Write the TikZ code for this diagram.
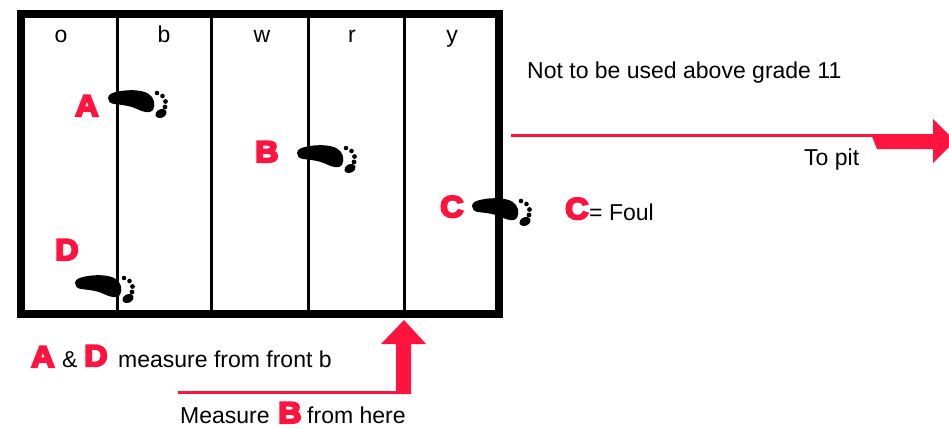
\documentclass[tikz,border=0pt]{standalone}
\usepackage{fontspec}
\setmainfont{Liberation Sans}
\newfontfamily\heavyfont[FakeBold=7,FakeStretch=1.08]{Liberation Sans Bold}
\definecolor{pitred}{HTML}{FF143F}
\tikzset{
  x=1pt,y=-1pt,
  lab/.style={anchor=base west,inner sep=0pt,font=\fontsize{23}{25}\selectfont,text=black},
  lane/.style={anchor=base,inner sep=0pt,font=\fontsize{23}{25}\selectfont,text=black},
  big/.style={anchor=base west,inner sep=0pt,font=\fontsize{30}{32}\heavyfont,text=pitred},
  foot/.pic={
    \fill[black] (0,0) .. controls (0,-4) and (5,-5.5) .. (10,-6.5)
      .. controls (20,-8.5) and (33,-8.5) .. (40,-4.5)
      .. controls (46,-1) and (48,6) .. (45,12)
      .. controls (42,16) and (35,14) .. (29,11)
      .. controls (22,7.5) and (14,7) .. (6,6)
      .. controls (2,5.5) and (0,3) .. cycle;
    \fill[black,rotate around={25:(53,15.5)}] (53,15.5) ellipse[x radius=6,y radius=4.2];
    \fill[black] (49,-5) circle[radius=2.3] (54.5,-2) circle[radius=2.3]
       (57.5,3.5) circle[radius=2.4] (57,9) circle[radius=2.4];
  },
  rule/.style={line width=3pt,draw=black},
  redline/.style={line width=3.2pt,draw=pitred},
}
\begin{document}
\begin{tikzpicture}
\useasboundingbox (0,0) rectangle (949,428);
\clip (0,0) rectangle (949,428);
\fill[white] (0,0) rectangle (949,428);
% lane rules
\foreach \x in {117,211,308,404} \draw[rule] (\x,13) -- (\x,314);
% feet
\pic at (108,98) {foot};
\pic at (297,153) {foot};
\pic at (472,206) {foot};
\pic at (75,283) {foot};
% frame
\draw[black,line width=8pt] (21,14) rectangle (499,314);
% lane labels
\node[lane] (lo) at (61,43) {o};
\node[lane] (lb) at (164,43) {b};
\node[lane] (lw) at (262,43) {w};
\node[lane] (lr) at (352,43) {r};
\node[lane] (ly) at (452,43) {y};
% texts
\node[lab] (note) at (527,78) {Not to be used above grade 11};
\node[lab] (pit) at (804,165) {To pit};
\node[lab] (foul) at (589,220) {= Foul};
\node[lab] (amp) at (62,367) {\&};
\node[lab] (front) at (118,367) {measure from front b};
\node[lab] (meas) at (180,423) {Measure};
\node[lab] (here) at (307,423) {from here};
% red letters
\node[big] (A) at (75,116) {A};
\node[big] (B) at (255,162) {B};
\node[big] (C) at (440,217) {C};
\node[big] (D) at (55,260) {D};
\node[big] (C2) at (565,219) {C};
\node[big] (A2) at (31,367) {A};
\node[big] (D2) at (84,366) {D};
\node[big] (B2) at (278,423) {B};
% arrows
\coordinate (pitstart) at (511,135.5);
\coordinate (pitbend) at (875,135.5);
\draw[redline] (pitstart) -- (pitbend);
\fill[pitred] (871,134) -- (933,134) -- (933,119) -- (955,141) -- (933,163) -- (933,149) -- (877,149) -- cycle;
\coordinate (bstart) at (178,392.5);
\coordinate (bend) at (400,392.5);
\draw[redline] (bstart) -- (bend);
\fill[pitred] (404,320) -- (426,344) -- (411,344) -- (411,394) -- (396,394) -- (396,344) -- (381,344) -- cycle;
\end{tikzpicture}
\end{document}
